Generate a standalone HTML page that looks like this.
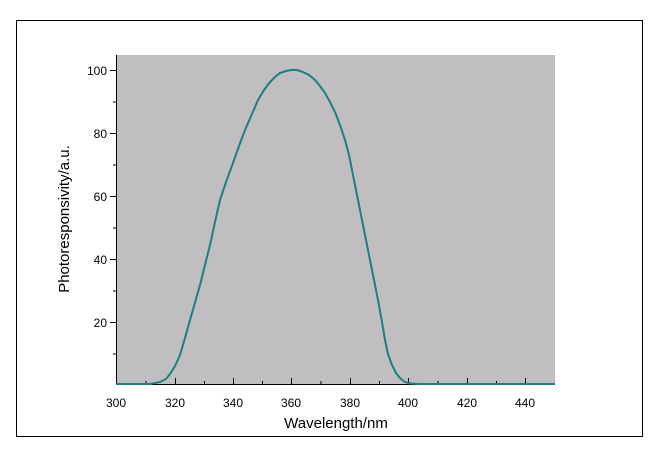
<!DOCTYPE html>
<html><head><style>body{margin:0;background:#fff}</style></head><body>
<svg width="659" height="463" xmlns="http://www.w3.org/2000/svg" font-family="Liberation Sans, sans-serif">
<rect x="16.5" y="20.5" width="626" height="416" fill="none" stroke="#000" stroke-width="1"/>
<rect x="117" y="55" width="438" height="330" fill="#c0bec0"/>
<line x1="116.5" y1="55" x2="116.5" y2="385" stroke="#000"/>
<line x1="116" y1="384.5" x2="555" y2="384.5" stroke="#000"/>
<g stroke="#000">
<line x1="110" y1="70.5" x2="116" y2="70.5"/><line x1="113" y1="102" x2="116" y2="102"/>
<line x1="110" y1="133.5" x2="116" y2="133.5"/><line x1="113" y1="165" x2="116" y2="165"/>
<line x1="110" y1="196.5" x2="116" y2="196.5"/><line x1="113" y1="228" x2="116" y2="228"/>
<line x1="110" y1="259.5" x2="116" y2="259.5"/><line x1="113" y1="291" x2="116" y2="291"/>
<line x1="110" y1="322.5" x2="116" y2="322.5"/><line x1="113" y1="354" x2="116" y2="354"/>
<line x1="175.5" y1="378" x2="175.5" y2="384"/><line x1="146" y1="381" x2="146" y2="384"/>
<line x1="233.5" y1="378" x2="233.5" y2="384"/><line x1="204.5" y1="381" x2="204.5" y2="384"/>
<line x1="291.5" y1="378" x2="291.5" y2="384"/><line x1="262.5" y1="381" x2="262.5" y2="384"/>
<line x1="350.5" y1="378" x2="350.5" y2="384"/><line x1="321" y1="381" x2="321" y2="384"/>
<line x1="408.5" y1="378" x2="408.5" y2="384"/><line x1="379.5" y1="381" x2="379.5" y2="384"/>
<line x1="467.5" y1="378" x2="467.5" y2="384"/><line x1="438" y1="381" x2="438" y2="384"/>
<line x1="525.5" y1="378" x2="525.5" y2="384"/><line x1="496.5" y1="381" x2="496.5" y2="384"/>
</g>
<g font-size="12" fill="#000" text-anchor="end">
<text x="107" y="75">100</text><text x="107" y="138">80</text><text x="107" y="201">60</text>
<text x="107" y="264">40</text><text x="107" y="327">20</text>
</g>
<g font-size="12" fill="#000" text-anchor="middle">
<text x="116" y="407">300</text><text x="175" y="407">320</text><text x="233" y="407">340</text>
<text x="291" y="407">360</text><text x="350" y="407">380</text><text x="408" y="407">400</text>
<text x="467" y="407">420</text><text x="525" y="407">440</text>
</g>
<text x="336" y="428" font-size="15" text-anchor="middle">Wavelength/nm</text>
<text transform="translate(69,219) rotate(-90)" font-size="15" text-anchor="middle">Photoresponsivity/a.u.</text>
<polyline fill="none" stroke="#1a8080" stroke-width="2" points="116,384 150,384 160,382 166,379 170,374 175,366 180,355 185,338 190,320 200,285 205,265 210,245 215,222 220,200 226,182 233,163 239,146 245,130 252,114 258,100 264,90 270,82 275,77 280,73 286,71 291,70 297,70 303,72 309,75 315,80 320,86 325,93 330,102 335,112 340,125 345,140 349,155 352,170 356,190 360,210 365,235 370,260 374,280 378,300 382,322 385,340 388,354 392,365 396,373 400,378 405,382 410,383.5 420,384 555,384"/>
</svg>
</body></html>
